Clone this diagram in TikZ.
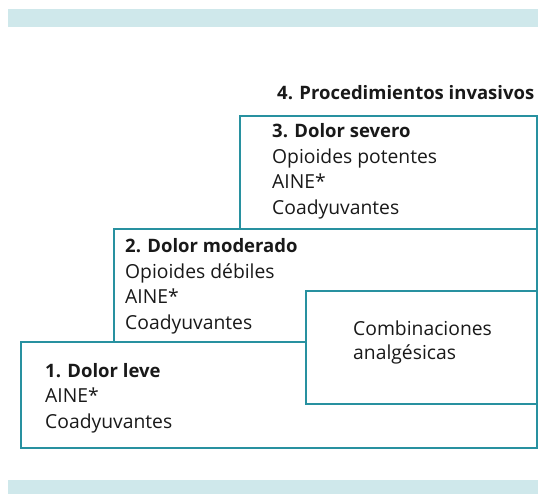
\documentclass[tikz,border=0pt]{standalone}
\usepackage{fontspec}
\setmainfont{Open Sans}
\definecolor{teal1}{RGB}{40,145,160}
\definecolor{band}{RGB}{207,232,235}
\definecolor{ink}{RGB}{25,25,25}
\begin{document}
\begin{tikzpicture}[x=1pt,y=-1pt,
  stair/.style={draw=teal1,line width=2pt,fill=white,inner sep=0pt,anchor=north west},
  txt/.style={anchor=base west,inner sep=0pt,text=ink,font=\fontsize{19.3}{20}\selectfont},
  bold/.style={txt,font=\fontsize{18.5}{20}\selectfont\bfseries}]
\useasboundingbox (0,0) rectangle (538,494);
\fill[band] (8,9) rectangle (538,27);
\fill[band] (8,480) rectangle (538,494);
% boxes
\node[stair,minimum width=516pt,minimum height=106pt] (b1) at (19.5,340.5) {};
\node[stair,minimum width=423pt,minimum height=112pt] (b2) at (112.5,228.5) {};
\node[stair,minimum width=297pt,minimum height=113pt] (b3) at (238.5,115.5) {};
\node[stair,minimum width=231pt,minimum height=113pt] (comb) at (304.5,290) {};
% texts
\node[bold] (t4) at (277,100) {4. Procedimientos invasivos};
\node[bold] (t3) at (272,138) {3. Dolor severo};
\node[txt] (t3a) at (272,164) {Opioides potentes};
\node[txt] (t3b) at (272,189) {AINE*};
\node[txt] (t3c) at (272,215) {Coadyuvantes};
\node[bold] (t2) at (125,253) {2. Dolor moderado};
\node[txt] (t2a) at (125,279) {Opioides débiles};
\node[txt] (t2b) at (125,304) {AINE*};
\node[txt] (t2c) at (125,330) {Coadyuvantes};
\node[txt] (tc1) at (353,335) {Combinaciones};
\node[txt] (tc2) at (353,359) {analgésicas};
\node[bold] (t1) at (45,377) {1. Dolor leve};
\node[txt] (t1a) at (45,402) {AINE*};
\node[txt] (t1b) at (45,428) {Coadyuvantes};
\end{tikzpicture}
\end{document}
